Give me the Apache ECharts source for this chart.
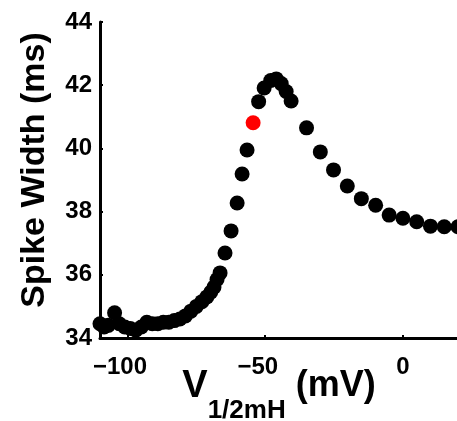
<!DOCTYPE html>
<html>
<head>
<meta charset="utf-8">
<script src="https://cdn.jsdelivr.net/npm/echarts@6/dist/echarts.min.js"></script>
<style>
  html, body { margin: 0; padding: 0; background: #fff; }
  #chart { width: 457px; height: 421px; }
</style>
</head>
<body>
<div id="chart"></div>
<script>
// V1/2mH (mV) vs spike width (ms)
const voltage = [-110, -108.5, -107, -104.7, -103, -101, -99, -97, -95, -93, -91, -89, -87, -85, -83, -81, -79, -77,
  -75, -73, -71.2, -69.8, -68.6, -67.5, -66.4, -64.6, -62.4, -60.2, -58.4, -56.6,
  -52.4, -50.4, -48, -46, -44.2, -42.4, -40.6, -35, -30, -25.2, -20.2, -15.1, -9.9, -5, 0, 5, 10, 15, 20]
const spikeWidth = [34.45, 34.35, 34.4, 34.8, 34.45, 34.35, 34.3, 34.25, 34.35, 34.5, 34.45, 34.45, 34.5, 34.5, 34.55, 34.6, 34.7, 34.85,
  35.0, 35.15, 35.3, 35.45, 35.61, 35.85, 36.06, 36.69, 37.39, 38.27, 39.19, 39.95,
  41.48, 41.91, 42.15, 42.2, 42.05, 41.8, 41.5, 40.65, 39.89, 39.32, 38.81, 38.41, 38.2, 37.89, 37.79, 37.68, 37.54, 37.52, 37.52]
// highlighted point (red)
const markVoltage = [-54.4]
const markWidth = [40.81]

const xTicks = [-100, -50, 0]

const font = 'Liberation Sans'
// matlab centres the digits, the minus hangs off to the left
const fmtMinus = (v) => (v < 0 ? '{n|\u2212' + Math.abs(v) + '}' : '{p|' + v + '}')

const chart = echarts.init(document.getElementById('chart'))

const tickText = { fontFamily: font, fontWeight: 'bold', fontSize: 24, color: '#000' }

const option = {
  backgroundColor: '#fff',
  animation: false,
  grid: { left: 100, top: 22, right: -1, bottom: 83, outerBoundsMode: 'none', containLabel: false },
  xAxis: {
    type: 'value',
    min: -110,
    max: 20,
    splitLine: { show: false },
    axisLine: { onZero: false, lineStyle: { color: '#000', width: 3 } },
    axisTick: { inside: true, length: 3, customValues: xTicks, lineStyle: { color: '#000', width: 2 } },
    axisLabel: {
      customValues: xTicks,
      formatter: fmtMinus,
      margin: 17,
      rich: {
        n: { ...tickText, padding: [0, 15, 0, 0] },
        p: { ...tickText }
      }
    },
    name: '{v|V}{s|1/2mH}{u| (mV)}',
    nameLocation: 'middle',
    nameGap: 30,
    nameMoveOverlap: false,
    nameTextStyle: {
      rich: {
        v: { fontFamily: font, fontWeight: 'bold', fontSize: 38, color: '#000', verticalAlign: 'top' },
        s: { fontFamily: font, fontWeight: 'bold', fontSize: 26, color: '#000', verticalAlign: 'top', padding: [30, 0, 0, 0] },
        u: { fontFamily: font, fontWeight: 'bold', fontSize: 36, color: '#000', verticalAlign: 'top' }
      }
    }
  },
  yAxis: {
    type: 'value',
    min: 34,
    max: 44,
    interval: 2,
    splitLine: { show: false },
    axisLine: { onZero: false, lineStyle: { color: '#000', width: 3 } },
    axisTick: { inside: true, length: 3, lineStyle: { color: '#000', width: 2 } },
    axisLabel: { ...tickText, margin: 8 },
    name: 'Spike Width (ms)',
    nameLocation: 'middle',
    nameGap: 48,
    nameMoveOverlap: false,
    nameTextStyle: {
      fontFamily: font,
      fontWeight: 'bold',
      fontSize: 34,
      color: '#000',
      padding: [0, 0, 0, 20]
    }
  },
  series: [
    {
      type: 'scatter',
      clip: false,
      symbolSize: 15,
      itemStyle: { color: '#000', opacity: 1 },
      data: voltage.map((v, i) => [v, spikeWidth[i]])
    },
    {
      type: 'scatter',
      clip: false,
      symbolSize: 15,
      itemStyle: { color: '#ff0000', opacity: 1 },
      data: markVoltage.map((v, i) => [v, markWidth[i]])
    }
  ]
}

chart.setOption(option)
</script>
</body>
</html>
